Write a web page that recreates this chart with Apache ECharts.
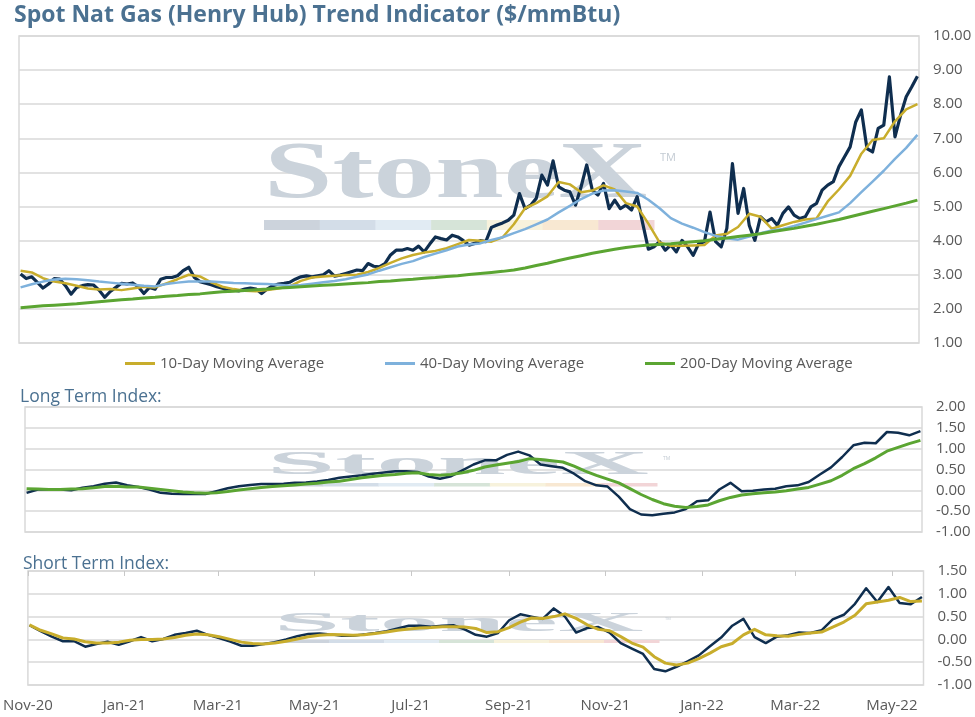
<!DOCTYPE html>
<html>
<head>
<meta charset="utf-8">
<title>Spot Nat Gas (Henry Hub) Trend Indicator</title>
<script src="https://cdn.jsdelivr.net/npm/echarts@6.0.0/dist/echarts.min.js"></script>
<style>
	html, body { margin: 0; padding: 0; background: #fff; }
	#chart { width: 975px; height: 717px; }
</style>
</head>
<body>
<div id="chart"></div>
<script>
var firstDay = '2020-11-02';
var lastDay = '2022-05-20';
var axisStart = '2020-11-01';
var axisEnd = '2022-05-21';
var xTickDates = ['2020-11-01', '2021-01-01', '2021-03-01', '2021-05-01', '2021-07-01', '2021-09-01', '2021-11-01', '2022-01-01', '2022-03-01', '2022-05-01'];
var xTickLabels = ['Nov-20', 'Jan-21', 'Mar-21', 'May-21', 'Jul-21', 'Sep-21', 'Nov-21', 'Jan-22', 'Mar-22', 'May-22'];

// spot price, read about twice a week
var spotPrice = [
	3.02, 2.89, 2.94, 2.78, 2.61, 2.73, 2.89, 2.87, 2.68, 2.43,
	2.63, 2.68, 2.71, 2.70, 2.55, 2.34, 2.51, 2.63, 2.75, 2.73,
	2.76, 2.65, 2.45, 2.63, 2.58, 2.87, 2.92, 2.92, 2.97, 3.12,
	3.22, 2.92, 2.80, 2.75, 2.71, 2.65, 2.61, 2.53, 2.55, 2.53,
	2.58, 2.61, 2.58, 2.45, 2.58, 2.68, 2.73, 2.75, 2.78, 2.87,
	2.94, 2.97, 2.94, 2.97, 3.00, 3.12, 2.96, 2.99, 3.04, 3.09,
	3.14, 3.12, 3.33, 3.25, 3.23, 3.33, 3.58, 3.72, 3.72, 3.77,
	3.72, 3.84, 3.67, 3.90, 4.11, 4.06, 4.02, 4.16, 4.11, 4.00,
	3.87, 3.92, 4.00, 3.97, 4.39, 4.46, 4.52, 4.60, 4.75, 5.38,
	4.94, 5.04, 5.24, 5.92, 5.63, 6.34, 5.58, 5.48, 5.43, 5.04,
	5.58, 6.22, 5.48, 5.34, 5.68, 4.94, 5.19, 4.94, 5.04, 4.90,
	5.29, 4.50, 3.75, 3.82, 3.97, 3.72, 3.87, 3.67, 4.01, 3.82,
	3.57, 3.92, 3.97, 4.84, 3.97, 3.82, 4.36, 6.26, 4.80, 5.53,
	4.45, 4.01, 4.70, 4.55, 4.65, 4.45, 4.80, 4.99, 4.75, 4.65,
	4.70, 4.99, 5.09, 5.48, 5.63, 5.73, 6.17, 6.46, 6.75, 7.48,
	7.83, 6.70, 6.60, 7.29, 7.39, 8.80, 7.04, 7.68, 8.22, 8.51, 8.82
];

// weekly readings from here on
var ma10 = [
	3.12, 3.07, 2.90, 2.80, 2.75, 2.68, 2.60, 2.57, 2.58, 2.55,
	2.60, 2.65, 2.63, 2.75, 2.87, 3.00, 2.95, 2.78, 2.65, 2.58,
	2.53, 2.52, 2.55, 2.60, 2.66, 2.82, 2.92, 2.95, 2.97, 2.99,
	3.00, 3.08, 3.20, 3.35, 3.48, 3.58, 3.65, 3.70, 3.78, 3.90,
	4.02, 4.00, 3.97, 4.10, 4.48, 4.95, 5.10, 5.30, 5.72, 5.65,
	5.42, 5.47, 5.62, 5.50, 5.10, 5.00, 4.50, 3.95, 3.85, 3.85,
	3.86, 3.87, 4.15, 4.20, 4.40, 4.79, 4.70, 4.35, 4.45, 4.55,
	4.62, 4.65, 5.15, 5.50, 5.90, 6.55, 6.95, 7.00, 7.50, 7.85, 8.00
];
var ma40 = [
	2.63, 2.72, 2.80, 2.86, 2.88, 2.87, 2.84, 2.80, 2.77, 2.74,
	2.71, 2.68, 2.66, 2.73, 2.77, 2.80, 2.80, 2.80, 2.78, 2.76,
	2.75, 2.74, 2.73, 2.71, 2.68, 2.70, 2.74, 2.78, 2.82, 2.87,
	2.94, 3.01, 3.12, 3.22, 3.32, 3.40, 3.52, 3.62, 3.72, 3.83,
	3.89, 3.92, 4.02, 4.10, 4.22, 4.34, 4.48, 4.62, 4.83, 5.02,
	5.22, 5.38, 5.47, 5.48, 5.44, 5.40, 5.20, 4.95, 4.66, 4.50,
	4.38, 4.25, 4.14, 4.07, 4.03, 4.12, 4.22, 4.30, 4.34, 4.43,
	4.53, 4.63, 4.73, 4.83, 5.10, 5.42, 5.73, 6.05, 6.40, 6.72, 7.10
];
var ma200 = [
	2.03, 2.06, 2.09, 2.11, 2.13, 2.15, 2.18, 2.21, 2.24, 2.27,
	2.29, 2.32, 2.34, 2.37, 2.39, 2.42, 2.44, 2.47, 2.50, 2.52,
	2.54, 2.56, 2.58, 2.61, 2.63, 2.65, 2.67, 2.69, 2.71, 2.73,
	2.75, 2.77, 2.80, 2.82, 2.85, 2.87, 2.90, 2.92, 2.95, 2.97,
	3.01, 3.04, 3.07, 3.10, 3.14, 3.20, 3.27, 3.34, 3.42, 3.49,
	3.56, 3.63, 3.69, 3.75, 3.80, 3.84, 3.87, 3.89, 3.91, 3.94,
	3.97, 4.00, 4.04, 4.08, 4.12, 4.16, 4.20, 4.26, 4.31, 4.36,
	4.42, 4.48, 4.55, 4.62, 4.70, 4.78, 4.86, 4.94, 5.02, 5.10, 5.19
];
var longIndex = [
	-0.06, 0.02, 0.02, 0.02, 0.00, 0.06, 0.10, 0.16, 0.19, 0.12,
	0.08, 0.02, -0.06, -0.08, -0.09, -0.09, -0.09, -0.02, 0.05, 0.10,
	0.13, 0.15, 0.15, 0.16, 0.18, 0.19, 0.21, 0.25, 0.30, 0.33,
	0.36, 0.40, 0.43, 0.46, 0.46, 0.44, 0.33, 0.28, 0.34, 0.48,
	0.62, 0.72, 0.72, 0.85, 0.93, 0.84, 0.62, 0.58, 0.54, 0.40,
	0.22, 0.12, 0.09, -0.15, -0.45, -0.58, -0.60, -0.56, -0.53, -0.45,
	-0.26, -0.24, 0.02, 0.18, -0.02, -0.01, 0.02, 0.04, 0.10, 0.12,
	0.20, 0.38, 0.55, 0.80, 1.08, 1.14, 1.13, 1.40, 1.38, 1.32, 1.42
];
var longSignal = [
	0.04, 0.03, 0.02, 0.02, 0.03, 0.04, 0.06, 0.09, 0.10, 0.08,
	0.08, 0.05, 0.02, -0.01, -0.04, -0.06, -0.07, -0.06, -0.03, 0.01,
	0.04, 0.07, 0.09, 0.11, 0.13, 0.15, 0.17, 0.20, 0.22, 0.26,
	0.30, 0.33, 0.36, 0.38, 0.41, 0.42, 0.38, 0.36, 0.38, 0.42,
	0.48, 0.56, 0.61, 0.65, 0.69, 0.76, 0.74, 0.71, 0.68, 0.58,
	0.46, 0.36, 0.27, 0.18, 0.04, -0.10, -0.22, -0.32, -0.38, -0.41,
	-0.39, -0.35, -0.25, -0.17, -0.11, -0.08, -0.06, -0.04, -0.01, 0.03,
	0.07, 0.15, 0.23, 0.36, 0.52, 0.64, 0.78, 0.94, 1.03, 1.12, 1.20
];
var shortIndex = [
	0.31, 0.18, 0.06, -0.04, -0.04, -0.16, -0.10, -0.05, -0.12, -0.04,
	0.05, -0.04, 0.01, 0.10, 0.14, 0.19, 0.10, 0.03, -0.05, -0.14,
	-0.14, -0.10, -0.06, 0.00, 0.07, 0.12, 0.13, 0.11, 0.08, 0.08,
	0.11, 0.14, 0.18, 0.24, 0.30, 0.30, 0.28, 0.30, 0.31, 0.22,
	0.10, 0.06, 0.14, 0.42, 0.55, 0.50, 0.45, 0.68, 0.50, 0.15,
	0.25, 0.27, 0.15, -0.08, -0.20, -0.32, -0.65, -0.70, -0.60, -0.48,
	-0.35, -0.15, 0.04, 0.30, 0.45, 0.05, -0.08, 0.06, 0.09, 0.15,
	0.14, 0.20, 0.44, 0.54, 0.78, 1.12, 0.82, 1.15, 0.80, 0.77, 0.93
];
var shortSignal = [
	0.32, 0.20, 0.12, 0.03, 0.01, -0.05, -0.08, -0.08, -0.06, -0.02,
	0.00, 0.00, 0.01, 0.04, 0.09, 0.12, 0.10, 0.06, 0.00, -0.06,
	-0.09, -0.10, -0.08, -0.04, 0.01, 0.06, 0.09, 0.11, 0.10, 0.09,
	0.10, 0.13, 0.16, 0.20, 0.23, 0.25, 0.26, 0.28, 0.28, 0.27,
	0.24, 0.15, 0.17, 0.26, 0.38, 0.47, 0.46, 0.50, 0.56, 0.46,
	0.32, 0.22, 0.19, 0.06, -0.08, -0.17, -0.38, -0.52, -0.56, -0.52,
	-0.42, -0.30, -0.16, -0.09, 0.10, 0.22, 0.10, 0.08, 0.07, 0.11,
	0.14, 0.16, 0.27, 0.38, 0.53, 0.78, 0.82, 0.86, 0.92, 0.83, 0.84
];

var font = 'Open Sans';
var labelColor = '#595959';
var headColor = '#4b7191';
var gridLine = '#d9d9d9';
var navy = '#0f2e4f';
var gold = '#c8ad2c';
var blue = '#7eb1dc';
var green = '#5ba532';
var stripe = ['#ccd3dc', '#d3dde8', '#e1ebf3', '#d6e4d8', '#f7f2dc', '#f8e8d2', '#f2d5d7'];

function day(s) {
	var p = s.split('-');
	return new Date(+p[0], +p[1] - 1, +p[2]).getTime();
}
function pair(values) {
	var t0 = day(firstDay), t1 = day(lastDay), n = values.length;
	return values.map(function (v, i) {
		return [t0 + (t1 - t0) * i / (n - 1), v];
	});
}
var tickValues = xTickDates.map(day);

function dateAxis(grid, labels) {
	return {
		type: 'value', gridIndex: grid, min: day(axisStart), max: day(axisEnd), scale: true,
		axisLine: {show: false},
		axisTick: {show: false},
		splitLine: {show: false},
		axisLabel: labels ? {
			customValues: tickValues,
			color: labelColor, fontFamily: font, fontSize: 15, margin: 13,
			showMinLabel: true, showMaxLabel: true,
			formatter: function (v) {
				var i = tickValues.indexOf(v);
				return i < 0 ? '' : xTickLabels[i];
			}
		} : {show: false}
	};
}
function valueAxis(grid, min, max, step) {
	return {
		type: 'value', gridIndex: grid, position: 'right', min: min, max: max, interval: step,
		axisLine: {show: false}, axisTick: {show: false},
		splitLine: {lineStyle: {color: gridLine, width: 1.5}},
		axisLabel: {
			color: labelColor, fontFamily: font, fontSize: 15, margin: 14,
			formatter: function (v) { return v.toFixed(2); }
		}
	};
}
function line(name, values, color, width, x, y, z) {
	return {
		name: name, type: 'line', xAxisIndex: x, yAxisIndex: y, data: pair(values),
		showSymbol: false, symbol: 'none', z: z,
		lineStyle: {color: color, width: width, join: 'round'}, itemStyle: {color: color}
	};
}
function legend(name, left) {
	return {
		data: [name], left: left, top: 351, icon: 'rect', itemWidth: 30, itemHeight: 3,
		selectedMode: false,
		textStyle: {color: labelColor, fontFamily: font, fontSize: 15}
	};
}
function watermark(left, top, size, sx, barTop, barH, barW) {
	var els = [{
		type: 'text', x: left, y: top, scaleX: sx, z: 1, silent: true,
		style: {text: 'StoneX', font: 'bold ' + size + 'px "Liberation Serif"', fill: '#cbd3db', verticalAlign: 'top'}
	}, {
		type: 'text', x: left + barW + 6, y: top + size * 0.2, z: 1, silent: true,
		style: {text: 'TM', font: Math.round(size * 0.14) + 'px "Open Sans"', fill: '#c3cbd3'}
	}];
	stripe.forEach(function (c, i) {
		els.push({
			type: 'rect', z: 1, silent: true,
			shape: {x: left + i * barW / 7, y: barTop, width: barW / 7 + 0.5, height: barH},
			style: {fill: c}
		});
	});
	return els;
}

var chart = echarts.init(document.getElementById('chart'));
chart.setOption({
	animation: false,
	backgroundColor: '#fff',
	title: [
		{text: 'Spot Nat Gas (Henry Hub) Trend Indicator ($/mmBtu)', left: 9, top: -1,
			textStyle: {color: headColor, fontFamily: font, fontSize: 23, fontWeight: 'bold'}},
		{text: 'Long Term Index:', left: 15, top: 383,
			textStyle: {color: headColor, fontFamily: font, fontSize: 17.5, fontWeight: 'normal'}},
		{text: 'Short Term Index:', left: 18, top: 550,
			textStyle: {color: headColor, fontFamily: font, fontSize: 17.5, fontWeight: 'normal'}}
	],
	legend: [
		legend('10-Day Moving Average', 120),
		legend('40-Day Moving Average', 380),
		legend('200-Day Moving Average', 640)
	],
	grid: [
		{left: 19, right: 56, top: 36, height: 307, show: true, borderColor: gridLine, borderWidth: 1.5},
		{left: 25, right: 53, top: 407, height: 125, show: true, borderColor: gridLine, borderWidth: 1.5},
		{left: 27, right: 51, top: 571, height: 114, show: true, borderColor: gridLine, borderWidth: 1.5}
	],
	xAxis: [
		dateAxis(0, false),
		dateAxis(1, false),
		dateAxis(2, true),
		{
			type: 'value', gridIndex: 2, position: 'top', min: day(axisStart), max: day(axisEnd), scale: true,
			axisLine: {show: false}, axisLabel: {show: false}, splitLine: {show: false},
			axisTick: {show: true, inside: true, length: 5, customValues: tickValues, lineStyle: {color: '#c8c8c8'}}
		}
	],
	yAxis: [
		valueAxis(0, 1, 10, 1),
		valueAxis(1, -1, 2, 0.5),
		valueAxis(2, -1, 1.5, 0.5)
	],
	graphic: watermark(264, 136, 80, 1.54, 220, 10, 390)
		.concat(watermark(267, 449, 33, 3.72, 483, 3.5, 390))
		.concat(watermark(274, 611, 27, 4.4, 640, 3, 385)),
	series: [
		line('Spot', spotPrice, navy, 3.2, 0, 0, 2),
		line('10-Day Moving Average', ma10, gold, 2.5, 0, 0, 3),
		line('40-Day Moving Average', ma40, blue, 2.5, 0, 0, 3),
		line('200-Day Moving Average', ma200, green, 3, 0, 0, 4),
		line('Long Term Index', longIndex, navy, 2.5, 1, 1, 2),
		line('Long Term Signal', longSignal, green, 3, 1, 1, 3),
		line('Short Term Index', shortIndex, navy, 2.5, 2, 2, 2),
		line('Short Term Signal', shortSignal, gold, 3, 2, 2, 3)
	]
});
</script>
</body>
</html>
